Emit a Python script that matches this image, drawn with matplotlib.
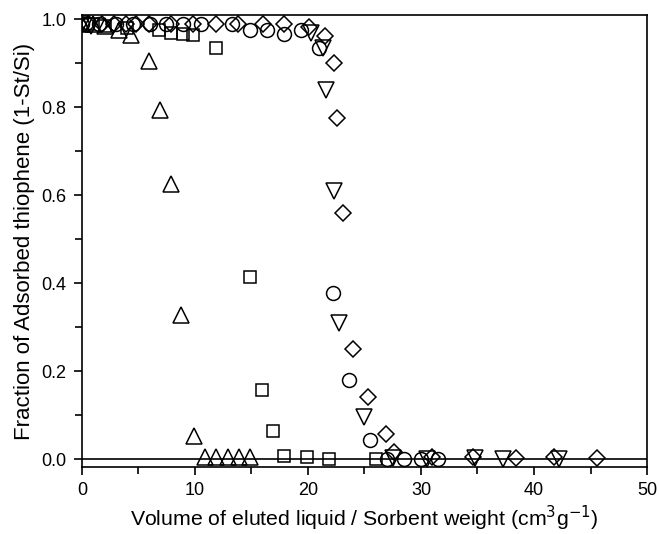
import matplotlib.pyplot as plt
from matplotlib.ticker import MultipleLocator

plt.rcParams['font.family'] = ['Liberation Sans', 'DejaVu Sans']

# series (x = cm3/g, y = 1-St/Si)
tri_up_x = [0, 1, 2, 3.3, 4.3, 5.9, 6.9, 7.9, 8.8, 9.9, 10.9, 11.9, 12.9, 13.9, 14.9]
tri_up_y = [0.99, 0.99, 0.985, 0.975, 0.965, 0.905, 0.795, 0.625, 0.327, 0.052,
            0.004, 0.004, 0.004, 0.004, 0.004]

square_x = [0.5, 2, 4, 6.8, 7.9, 8.9, 9.8, 11.9, 14.9, 15.9, 16.9, 17.9, 19.9, 21.9, 26.0]
square_y = [0.99, 0.985, 0.98, 0.975, 0.97, 0.967, 0.964, 0.935, 0.415, 0.157, 0.064,
            0.007, 0.004, 0.0, 0.0]

circle_x = [0, 1.5, 3, 4.5, 6, 7.4, 8.9, 10.5, 13.3, 14.9, 16.4, 17.9, 19.4, 21.0,
            22.2, 23.6, 25.5, 27.0, 28.5, 30.0, 31.5]
circle_y = [0.99, 0.99, 0.99, 0.99, 0.99, 0.99, 0.99, 0.99, 0.99, 0.975, 0.975, 0.967,
            0.975, 0.936, 0.377, 0.18, 0.043, 0.0, 0.0, 0.0, 0.0]

tri_dn_x = [0, 0.8, 20.3, 21.3, 21.6, 22.3, 22.7, 25.0, 27.5, 30.5, 34.8, 37.3, 42.2]
tri_dn_y = [0.99, 0.985, 0.97, 0.935, 0.84, 0.61, 0.31, 0.096, 0.003, 0.0, 0.003, 0.0, 0.0]

diamond_x = [0.5, 1.8, 2.8, 3.9, 4.8, 5.9, 7.9, 9.8, 11.9, 13.8, 16.0, 17.9, 20.1, 21.5,
             22.3, 22.6, 23.1, 24.0, 25.3, 26.9, 27.6, 31.0, 34.6, 38.4, 41.8, 45.6]
diamond_y = [0.99, 0.99, 0.99, 0.99, 0.99, 0.99, 0.99, 0.99, 0.99, 0.99, 0.99, 0.99, 0.983,
             0.962, 0.90, 0.775, 0.56, 0.25, 0.141, 0.057, 0.015, 0.005, 0.005, 0.003,
             0.004, 0.003]

fig = plt.figure(figsize=(6.59, 5.34), dpi=100)
ax = fig.add_axes([0.1244, 0.1255, 0.8574, 0.8464])

ax.axhline(0, color='black', lw=1.2, zorder=1)

style = dict(ls='none', mfc='none', mec='black', mew=1.1, zorder=3)
ax.plot(tri_up_x, tri_up_y, marker='^', ms=11, **style)
ax.plot(square_x, square_y, marker='s', ms=9, **style)
ax.plot(circle_x, circle_y, marker='o', ms=10, **style)
ax.plot(tri_dn_x, tri_dn_y, marker='v', ms=11, **style)
ax.plot(diamond_x, diamond_y, marker='D', ms=8.5, **style)

ax.set_xlim(0, 50)
ax.set_ylim(-0.018, 1.01)
ax.xaxis.set_major_locator(MultipleLocator(10))
ax.xaxis.set_minor_locator(MultipleLocator(5))
ax.yaxis.set_major_locator(MultipleLocator(0.2))
ax.yaxis.set_minor_locator(MultipleLocator(0.1))
ax.yaxis.set_major_formatter(plt.FuncFormatter(lambda v, p: f'{v:.1f}'))

ax.tick_params(which='both', direction='out', top=False, right=False,
               width=1.2, labelsize=13)
ax.tick_params(which='major', length=6, pad=5)
ax.tick_params(which='minor', length=5)
for s in ax.spines.values():
    s.set_linewidth(1.2)

ax.set_xlabel('Volume of eluted liquid / Sorbent weight (cm$^3$g$^{-1}$)', fontsize=15.3,
              labelpad=3.5)
ax.set_ylabel('Fraction of Adsorbed thiophene (1-St/Si)', fontsize=16, labelpad=5)

fig.savefig('out.png', dpi=100)
